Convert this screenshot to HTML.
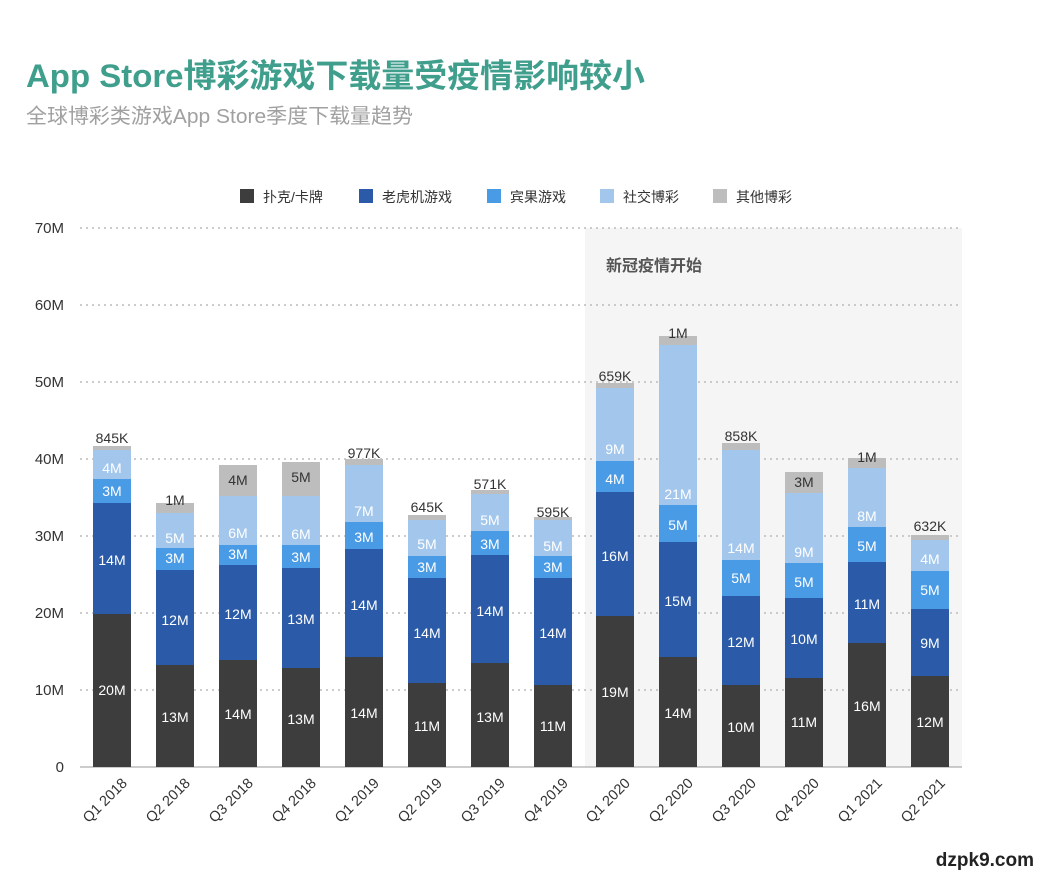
<!DOCTYPE html>
<html><head><meta charset="utf-8"><style>
body{margin:0;background:#fff;width:1043px;height:880px;overflow:hidden}
svg text{font-family:"Liberation Sans","Noto Sans CJK SC",sans-serif}
</style></head><body>
<svg width="1043" height="880" viewBox="0 0 1043 880">
<text x="26" y="87" font-size="32.5" font-weight="bold" fill="#3f9f8c" textLength="619" lengthAdjust="spacingAndGlyphs">App Store博彩游戏下载量受疫情影响较小</text>
<text x="26" y="123" font-size="20.5" fill="#a0a0a0" textLength="387" lengthAdjust="spacingAndGlyphs">全球博彩类游戏App Store季度下载量趋势</text>
<rect x="585" y="228" width="377" height="539" fill="#f5f5f5"/>
<text x="606" y="271" font-size="16" font-weight="bold" fill="#555">新冠疫情开始</text>
<g stroke="#bbb" stroke-dasharray="2,4" stroke-width="1.5">
<line x1="80" x2="962" y1="228" y2="228"/><line x1="80" x2="962" y1="305" y2="305"/>
<line x1="80" x2="962" y1="382" y2="382"/><line x1="80" x2="962" y1="459" y2="459"/>
<line x1="80" x2="962" y1="536" y2="536"/><line x1="80" x2="962" y1="613" y2="613"/>
<line x1="80" x2="962" y1="690" y2="690"/>
</g>
<line x1="80" x2="962" y1="767" y2="767" stroke="#999"/>
<g font-size="15" fill="#333" text-anchor="end">
<text x="64" y="233">70M</text><text x="64" y="310">60M</text><text x="64" y="387">50M</text>
<text x="64" y="464">40M</text><text x="64" y="541">30M</text><text x="64" y="618">20M</text>
<text x="64" y="695">10M</text><text x="64" y="772">0</text>
</g>
<g font-size="14" fill="#333">
<rect x="240" y="189" width="14" height="14" fill="#3d3d3d"/><text x="263" y="202">扑克/卡牌</text>
<rect x="359" y="189" width="14" height="14" fill="#2b5ba8"/><text x="382" y="202">老虎机游戏</text>
<rect x="487" y="189" width="14" height="14" fill="#4a9be6"/><text x="510" y="202">宾果游戏</text>
<rect x="600" y="189" width="14" height="14" fill="#a3c7ec"/><text x="623" y="202">社交博彩</text>
<rect x="713" y="189" width="14" height="14" fill="#bdbdbd"/><text x="736" y="202">其他博彩</text>
</g>
<g id="bars"></g>
</svg>
<script>
const cx=[112,175,238,301,364,427,490,553,615,678,741,804,867,930];
const q=["Q1 2018","Q2 2018","Q3 2018","Q4 2018","Q1 2019","Q2 2019","Q3 2019","Q4 2019","Q1 2020","Q2 2020","Q3 2020","Q4 2020","Q1 2021","Q2 2021"];
const tops=[[614,503,479,450,446],[665,570,548,513,503],[660,565,545,496,465],[668,568,545,496,462],[657,549,522,465,459],[683,578,556,520,515],[663,555,531,494,490],[685,578,556,520,517],[616,492,461,388,383],[657,542,505,345,336],[685,596,560,450,443],[678,598,563,493,472],[643,562,527,468,458],[676,609,571,540,535]];
const labs=[[["20M",690],["14M",560],["3M",491],["4M",468],["845K",438,1]],
[["13M",717],["12M",620],["3M",558],["5M",538],["1M",500,1]],
[["14M",714],["12M",614],["3M",554],["6M",533],["4M",480,2]],
[["13M",719],["13M",619],["3M",557],["6M",534],["5M",477,2]],
[["14M",713],["14M",605],["3M",537],["7M",511],["977K",453,1]],
[["11M",726],["14M",633],["3M",567],["5M",544],["645K",507,1]],
[["13M",717],["14M",611],["3M",544],["5M",520],["571K",484,1]],
[["11M",726],["14M",633],["3M",567],["5M",546],["595K",512,1]],
[["19M",692],["16M",556],["4M",479],["9M",449],["659K",376,1]],
[["14M",713],["15M",601],["5M",525],["21M",494],["1M",333,1]],
[["10M",727],["12M",642],["5M",578],["14M",548],["858K",436,1]],
[["11M",722],["10M",639],["5M",582],["9M",552],["3M",482,2]],
[["16M",706],["11M",604],["5M",546],["8M",516],["1M",457,1]],
[["12M",722],["9M",643],["5M",590],["4M",559],["632K",526,1]]];
const cols=["#3d3d3d","#2b5ba8","#4a9be6","#a3c7ec","#bdbdbd"];
let s="";
cx.forEach((c,i)=>{let prev=767;tops[i].forEach((t,j)=>{s+=`<rect x="${c-19}" y="${t}" width="38" height="${prev-t}" fill="${cols[j]}"/>`;prev=t;});
labs[i].forEach(l=>{const fill=l[2]?"#333":"#fff";s+=`<text x="${c}" y="${l[1]+5}" font-size="14" text-anchor="middle" fill="${fill}">${l[0]}</text>`;});
s+=`<text transform="translate(${c+16},784) rotate(-45)" font-size="14.5" fill="#333" text-anchor="end">${q[i]}</text>`;});
s+=`<text x="1034" y="866" font-size="19" font-weight="bold" fill="#222" text-anchor="end" stroke="#fff" stroke-width="3" paint-order="stroke">dzpk9.com</text>`;
document.getElementById("bars").innerHTML=s;
</script>
</body></html>
